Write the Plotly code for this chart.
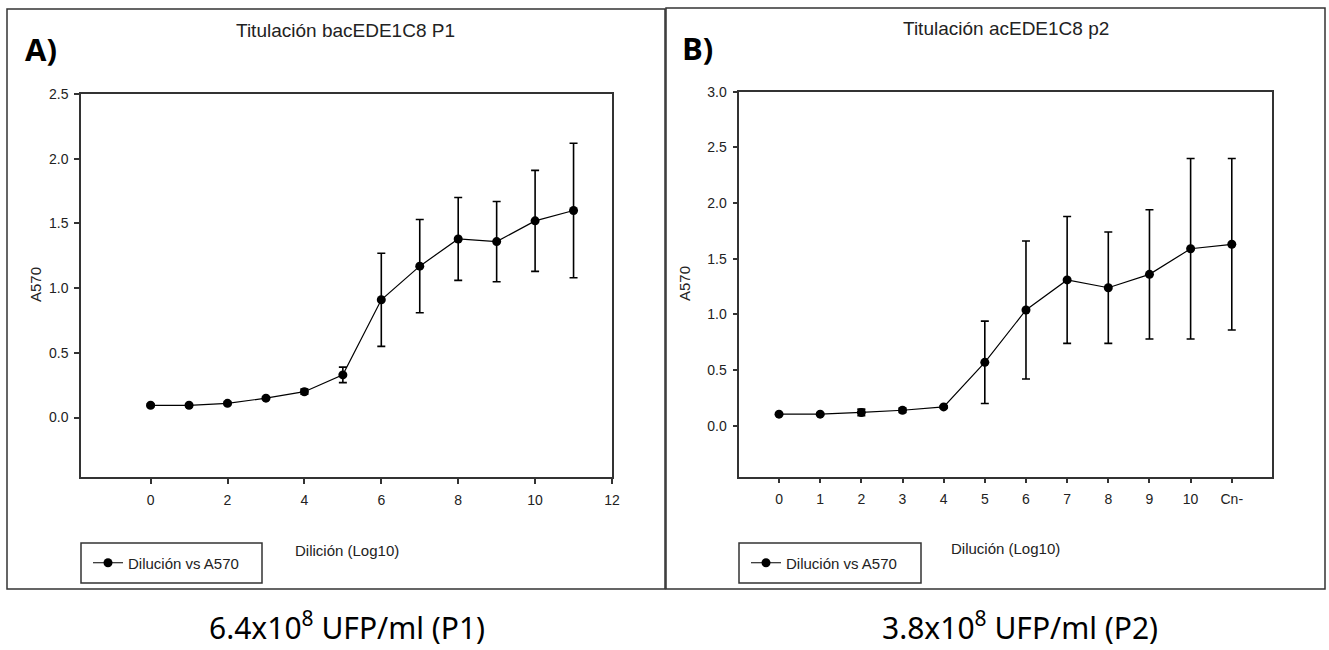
import plotly.graph_objects as go

# ---------------- data ----------------
dil_p1 = [0, 1, 2, 3, 4, 5, 6, 7, 8, 9, 10, 11]
a570_p1 = [0.095, 0.095, 0.11, 0.15, 0.20, 0.33, 0.91, 1.17, 1.38, 1.36, 1.52, 1.60]
sd_p1 = [0.01, 0.01, 0.01, 0.01, 0.02, 0.06, 0.36, 0.36, 0.32, 0.31, 0.39, 0.52]

dil_p2 = [0, 1, 2, 3, 4, 5, 6, 7, 8, 9, 10, 11]
a570_p2 = [0.105, 0.105, 0.12, 0.14, 0.17, 0.57, 1.04, 1.31, 1.24, 1.36, 1.59, 1.63]
sd_p2 = [0.01, 0.01, 0.03, 0.02, 0.01, 0.37, 0.62, 0.57, 0.50, 0.58, 0.81, 0.77]

x1_ticks = [0, 2, 4, 6, 8, 10, 12]
x2_ticks = [0, 1, 2, 3, 4, 5, 6, 7, 8, 9, 10, 11]
x2_labels = ["0", "1", "2", "3", "4", "5", "6", "7", "8", "9", "10", "Cn-"]
y1_ticks = [0.0, 0.5, 1.0, 1.5, 2.0, 2.5]
y2_ticks = [0.0, 0.5, 1.0, 1.5, 2.0, 2.5, 3.0]

series_name = "Dilución vs A570"

# ---------------- layout helpers ----------------
W, H = 1329, 650
def px(x):
    return x / W
def py(y):
    return 1 - y / H

AX = "#333333"
TXT = "#222222"
SANS = "Liberation Sans, Arial"
TICKFONT = dict(family=SANS, size=14, color=TXT)

fig = go.Figure()

def add_series(x, y, err, xa, ya, leg):
    fig.add_trace(go.Scatter(
        x=x, y=y, mode="lines+markers", name=series_name,
        xaxis=xa, yaxis=ya, legend=leg, showlegend=True,
        line=dict(color="black", width=1.2),
        marker=dict(color="black", size=9, symbol="circle"),
        error_y=dict(type="data", array=err, visible=True,
                     color="black", thickness=1.6, width=4),
    ))

add_series(dil_p1, a570_p1, sd_p1, "x", "y", "legend")
add_series(dil_p2, a570_p2, sd_p2, "x2", "y2", "legend2")

common = dict(showline=True, mirror=True, linecolor=AX, linewidth=1.5,
              ticks="outside", ticklen=5, tickwidth=1.5, tickcolor=AX,
              showgrid=False, zeroline=False, tickfont=TICKFONT,
              automargin=False, fixedrange=True)

legfont = dict(family=SANS, size=15, color=TXT)

fig.update_layout(
    width=W, height=H, autosize=False,
    margin=dict(l=0, r=0, t=0, b=0),
    paper_bgcolor="white", plot_bgcolor="white",
    showlegend=True,
    xaxis=dict(domain=[px(81), px(612)], range=[-1.81, 12], anchor="y",
               tickvals=x1_ticks, ticklabelstandoff=4, **common),
    yaxis=dict(domain=[py(477), py(94)], range=[-0.459, 2.5], anchor="x",
               tickvals=y1_ticks, tickformat=".1f", ticklabelstandoff=3, **common),
    xaxis2=dict(domain=[px(739.3), px(1271.7)], range=[-0.965, 11.97], anchor="y2",
                tickvals=x2_ticks, ticktext=x2_labels, ticklabelstandoff=4, **common),
    yaxis2=dict(domain=[py(476.5), py(91.7)], range=[-0.455, 3.0], anchor="x2",
                tickvals=y2_ticks, tickformat=".1f", ticklabelstandoff=3, **common),
    legend=dict(x=px(88), y=py(563), xanchor="left", yanchor="middle",
                bgcolor="rgba(0,0,0,0)", borderwidth=0, font=legfont, visible=True),
    legend2=dict(x=px(746), y=py(563), xanchor="left", yanchor="middle",
                 bgcolor="rgba(0,0,0,0)", borderwidth=0, font=legfont, visible=True),
)

# frames
shapes = [
    dict(type="rect", xref="paper", yref="paper", x0=px(7), x1=px(665), y0=py(589), y1=py(9),
         line=dict(color="#333333", width=1.5)),
    dict(type="rect", xref="paper", yref="paper", x0=px(666), x1=px(1325), y0=py(589), y1=py(8),
         line=dict(color="#333333", width=1.5)),
    dict(type="rect", xref="paper", yref="paper", x0=px(81), x1=px(262), y0=py(583), y1=py(543),
         line=dict(color="#333333", width=1.5)),
    dict(type="rect", xref="paper", yref="paper", x0=px(739), x1=px(921), y0=py(583), y1=py(543),
         line=dict(color="#333333", width=1.5)),
]
fig.update_layout(shapes=shapes)

def ann(text, x, y, size, family=SANS, angle=0, xanchor="center", color=TXT):
    fig.add_annotation(text=text, x=px(x), y=py(y), xref="paper", yref="paper",
                       showarrow=False, xanchor=xanchor, yanchor="middle",
                       textangle=angle, font=dict(family=family, size=size, color=color))

ann("Titulación bacEDE1C8 P1", 345, 30, 19)
ann("Titulación acEDE1C8 p2", 1006, 28, 19)
ann("<b>A)</b>", 23, 49, 31, family="Open Sans", xanchor="left", color="black")
ann("<b>B)</b>", 680, 48, 31, family="Open Sans", xanchor="left", color="black")
ann("A570", 35, 285, 15, angle=-90)
ann("A570", 684, 284, 15, angle=-90)
ann("Dilición (Log10)", 346.5, 550, 15)
ann("Dilución (Log10)", 1005.5, 548, 15)
ann("6.4x10<sup>8</sup> UFP/ml (P1)", 347, 626, 30, family="Noto Sans", color="black")
ann("3.8x10<sup>8</sup> UFP/ml (P2)", 1020, 626, 30, family="Noto Sans", color="black")

fig.write_html("out.html", config={"displayModeBar": False},
               post_script="document.body.style.margin='0px';")
